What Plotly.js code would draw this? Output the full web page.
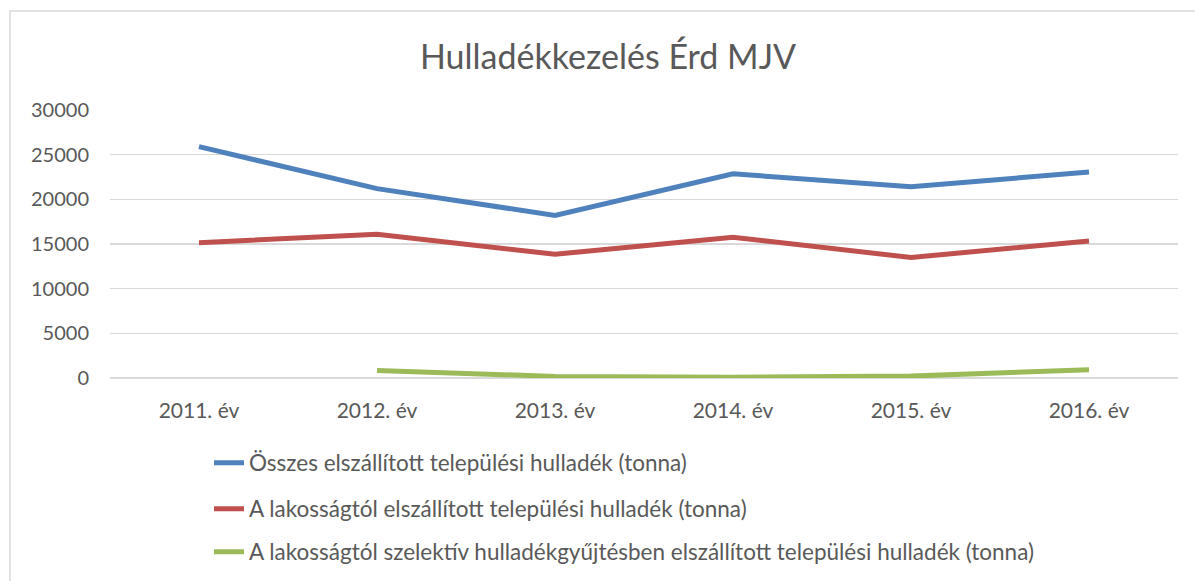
<!DOCTYPE html>
<html>
<head>
<meta charset="utf-8">
<script src="https://cdn.plot.ly/plotly-3.0.1.min.js"></script>
<style>
html,body{margin:0;padding:0;background:#fff;}
#chart{width:1195px;height:581px;}
</style>
</head>
<body>
<div id="chart"></div>
<script>
const categories = ["2011. év","2012. év","2013. év","2014. év","2015. év","2016. év"];
const osszes = [25900, 21200, 18200, 22850, 21420, 23050];
const lakossagi = [15150, 16100, 13850, 15750, 13500, 15330];
const szelektiv = [null, 850, 180, 80, 210, 930];
const seriesNames = [
  "Összes elszállított települési hulladék (tonna)",
  "A lakosságtól elszállított települési hulladék (tonna)",
  "A lakosságtól szelektív hulladékgyűjtésben elszállított települési hulladék (tonna)"
];
const yTicks = [0, 5000, 10000, 15000, 20000, 25000, 30000];

const FONT = "Lato, 'Open Sans', sans-serif";
const TXT = "#595959";

const traces = [
  {x: categories, y: osszes, name: seriesNames[0], type: "scatter", mode: "lines",
   line: {color: "#4f81bd", width: 5}, legend: "legend"},
  {x: categories, y: lakossagi, name: seriesNames[1], type: "scatter", mode: "lines",
   line: {color: "#c0504d", width: 5}, legend: "legend2"},
  {x: categories, y: szelektiv, name: seriesNames[2], type: "scatter", mode: "lines",
   line: {color: "#9bbb59", width: 5}, legend: "legend3", connectgaps: false}
];

function leg(py){
  return {xref: "container", yref: "container", x: 209/1195, xanchor: "left",
    y: 1 - py/581, yanchor: "middle",
    orientation: "v", bgcolor: "rgba(0,0,0,0)", font: {family: FONT, size: 22.5, color: TXT},
    itemclick: false};
}

const layout = {
  width: 1195, height: 581,
  margin: {l: 110, r: 17, t: 110, b: 203, autoexpand: false},
  paper_bgcolor: "#fff", plot_bgcolor: "#fff",
  title: {text: "Hulladékkezelés Érd MJV", x: 608/1195, xref: "container", xanchor: "center",
    y: 1 - 57/581, yref: "container", yanchor: "middle",
    font: {family: FONT, size: 34, color: TXT}},
  font: {family: FONT, color: TXT},
  xaxis: {type: "category", range: [-0.5, 5.5], showgrid: false, showline: false, zeroline: false,
    ticks: "", ticklabelstandoff: 18, tickfont: {family: FONT, size: 21, color: TXT}, fixedrange: true},
  yaxis: {range: [0, 30000], tickvals: yTicks, ticktext: yTicks.map(String),
    showgrid: true, gridcolor: "#d9d9d9", gridwidth: 1.5,
    zeroline: true, zerolinecolor: "#d9d9d9", zerolinewidth: 1.5,
    showline: false, ticks: "", ticklabelstandoff: 20,
    tickfont: {family: FONT, size: 20, color: TXT}, fixedrange: true},
  showlegend: true,
  legend: leg(463),
  legend2: leg(509),
  legend3: leg(552),
  shapes: [{type: "rect", xref: "paper", yref: "paper",
    x0: (10-110)/1068, x1: 1.5, y0: -2, y1: (378-11)/268,
    line: {color: "#d9d9d9", width: 1.5}, fillcolor: "rgba(0,0,0,0)", layer: "below"}]
};

Plotly.newPlot("chart", traces, layout, {staticPlot: true, displayModeBar: false});
</script>
</body>
</html>
